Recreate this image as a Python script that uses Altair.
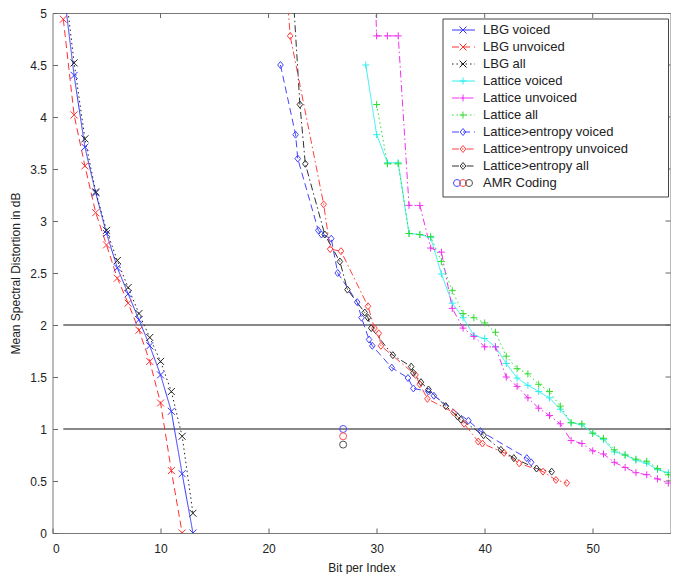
import altair as alt
import pandas as pd

# ---------------- data ----------------
lbg_x = list(range(1, 14))
lbg_voiced = [5.25, 4.40, 3.71, 3.27, 2.88, 2.55, 2.30, 2.05, 1.80, 1.52, 1.17, 0.57, 0.00]
lbg_unvoiced_x = list(range(1, 13))
lbg_unvoiced = [4.94, 4.02, 3.53, 3.08, 2.77, 2.45, 2.21, 1.95, 1.65, 1.25, 0.60, 0.00]
lbg_all = [5.40, 4.52, 3.79, 3.28, 2.91, 2.62, 2.36, 2.11, 1.88, 1.65, 1.36, 0.93, 0.19]

lat_x = list(range(29, 58))
lat_voiced = [4.50, 3.83, 3.56, 3.56, 2.88, 2.87, 2.84, 2.49, 2.21, 2.07, 1.90, 1.87, 1.79,
              1.63, 1.49, 1.42, 1.36, 1.30, 1.19, 1.06, 1.04, 0.96, 0.90, 0.78, 0.75, 0.70,
              0.67, 0.61, 0.58]
lat_unvoiced = [8.00, 4.78, 4.78, 4.78, 3.15, 3.15, 2.74, 2.70, 2.16, 1.97, 1.89, 1.79, 1.79,
                1.50, 1.41, 1.30, 1.20, 1.13, 1.05, 0.89, 0.86, 0.79, 0.76, 0.68, 0.63, 0.58,
                0.56, 0.52, 0.48]
lat_all_x = list(range(30, 58))
lat_all = [4.12, 3.55, 3.55, 2.88, 2.87, 2.85, 2.61, 2.33, 2.11, 2.07, 2.02, 1.93, 1.70,
           1.58, 1.53, 1.43, 1.36, 1.22, 1.06, 1.05, 0.96, 0.91, 0.80, 0.75, 0.71, 0.69,
           0.62, 0.56]

ent_voiced_x = [21.1, 22.5, 22.7, 24.6, 24.9, 25.8, 26.4, 28.2, 28.6, 29.3, 29.6, 31.4,
                32.9, 33.4, 34.8, 35.3, 38.5, 39.6, 43.9, 44.3]
ent_voiced_y = [4.50, 3.83, 3.60, 2.91, 2.87, 2.83, 2.50, 2.22, 2.07, 1.86, 1.80, 1.59,
                1.49, 1.39, 1.36, 1.32, 1.08, 0.98, 0.72, 0.68]
ent_unvoiced_x = [21.4, 22.0, 25.1, 25.7, 26.7, 29.2, 29.8, 30.2, 30.4, 33.6, 34.0, 34.7,
                  37.1, 38.1, 39.4, 39.8, 41.8, 43.2, 45.4, 46.6, 47.6]
ent_unvoiced_y = [5.60, 4.78, 3.16, 2.73, 2.71, 2.18, 1.97, 1.92, 1.80, 1.52, 1.43, 1.29,
                  1.16, 1.05, 0.88, 0.86, 0.77, 0.67, 0.59, 0.51, 0.48]
ent_all_x = [22.2, 22.9, 23.4, 25.2, 26.6, 27.3, 28.9, 29.2, 29.5, 31.5, 33.2, 33.4, 34.1,
             34.8, 36.4, 37.5, 37.8, 39.9, 41.5, 42.7, 44.8, 46.2]
ent_all_y = [5.30, 4.12, 3.55, 2.87, 2.61, 2.34, 2.12, 2.07, 1.97, 1.71, 1.60, 1.54, 1.45,
             1.38, 1.22, 1.12, 1.09, 0.94, 0.80, 0.72, 0.62, 0.59]

amr_x = [26.9, 26.9, 26.9]
amr_y = [1.00, 0.93, 0.85]

ref_levels = [1, 2]
x_ticks = [0, 10, 20, 30, 40, 50]
y_ticks = [0, 0.5, 1, 1.5, 2, 2.5, 3, 3.5, 4, 4.5, 5]

names = ["LBG voiced", "LBG unvoiced", "LBG all",
         "Lattice voiced", "Lattice unvoiced", "Lattice all",
         "Lattice>entropy voiced", "Lattice>entropy unvoiced", "Lattice>entropy all",
         "AMR voiced", "AMR unvoiced", "AMR all"]
legend_labels = names[:9] + ["AMR Coding"]

# ---------------- styles ----------------
BLUE, RED, BLACK = "#3535ff", "#ff3030", "#202020"
CYAN, MAG, GREEN = "#30eeee", "#f030f0", "#30dd30"
colors = [BLUE, RED, BLACK, CYAN, MAG, GREEN, "#4545ff", "#ff4040", "#303030", "#4a4aff", "#ff5050", "#505050"]
SOLID, DASH, DOT, DASHDOT = [1, 0], [7, 4], [1.5, 3], [7, 3, 1.5, 3]
dashes = [SOLID, DASH, DOT, SOLID, DASHDOT, DOT, DASH, DASHDOT, DASHDOT, SOLID, SOLID, SOLID]
XMARK = "M-1,-1L1,1M-1,1L1,-1"
PLUS = "M-1,0L1,0M0,-1L0,1"
DIAM = "M0,-1L0.8,0L0,1L-0.8,0Z"
shapes = [XMARK] * 3 + [PLUS] * 3 + [DIAM] * 3 + ["circle"] * 3
sizes = [49, 49, 42, 100, 100, 100, 121, 121, 121, 81, 81, 81]

W, H = 618, 520
XMAX, YMAX = 57.2, 5.0


def px2x(px):
    return px / W * XMAX


def px2y(py):
    return YMAX - py / H * YMAX


# ---------------- tables ----------------
rows = []
def add(series, xs, ys):
    for i, (a, b) in enumerate(zip(xs, ys)):
        rows.append({"series": series, "x": a, "y": b, "ord": i})

add(names[0], lbg_x, lbg_voiced)
add(names[1], lbg_unvoiced_x, lbg_unvoiced)
add(names[2], lbg_x, lbg_all)
add(names[3], lat_x, lat_voiced)
add(names[4], lat_x, lat_unvoiced)
add(names[5], lat_all_x, lat_all)
add(names[6], ent_voiced_x, ent_voiced_y)
add(names[7], ent_unvoiced_x, ent_unvoiced_y)
add(names[8], ent_all_x, ent_all_y)
for k in range(3):
    add(names[9 + k], [amr_x[k]], [amr_y[k]])
df = pd.DataFrame(rows)

xs = alt.Scale(domain=[0, XMAX], nice=False, zero=False)
ys = alt.Scale(domain=[0, YMAX], nice=False, zero=False)
color = alt.Color("series:N", scale=alt.Scale(domain=names, range=colors), legend=None)
dash = alt.StrokeDash("series:N", scale=alt.Scale(domain=names, range=dashes), legend=None)
shape = alt.Shape("series:N", scale=alt.Scale(domain=names, range=shapes), legend=None)
size = alt.Size("series:N", scale=alt.Scale(domain=names, range=sizes), legend=None)

X = alt.X("x:Q", scale=xs, axis=alt.Axis(values=x_ticks, format="d", title="Bit per Index",
                                          offset=-5, tickSize=5, domain=False, labelPadding=10,
                                          titlePadding=8, tickColor="#666"))
Y = alt.Y("y:Q", scale=ys, axis=alt.Axis(values=y_ticks, format="~g",
                                          title="Mean Spectral Distortion in dB",
                                          offset=-5, tickSize=5, domain=False, labelPadding=6,
                                          titlePadding=7, tickColor="#666"))

ref_df = pd.DataFrame({"y": ref_levels, "x1": [1] * len(ref_levels), "x2": [XMAX] * len(ref_levels)})
refs = alt.Chart(ref_df).mark_rule(color="#606060", strokeWidth=1.4).encode(
    x=alt.X("x1:Q", scale=xs), x2="x2:Q", y=alt.Y("y:Q", scale=ys))

lines = alt.Chart(df).transform_filter(
    alt.FieldOneOfPredicate(field="series", oneOf=names[:9])
).mark_line(clip=True, strokeWidth=1).encode(x=X, y=Y, color=color, strokeDash=dash, order="ord:Q")

points = alt.Chart(df).mark_point(clip=True, strokeWidth=1, opacity=1, filled=False).encode(
    x=X, y=Y, color=color, shape=shape, size=size)

# inward ticks on top and right frame edges
top_df = pd.DataFrame({"x": x_ticks[1:], "y1": [YMAX] * 5, "y2": [px2y(5)] * 5})
top_ticks = alt.Chart(top_df).mark_rule(color="#666").encode(
    x=alt.X("x:Q", scale=xs), y=alt.Y("y1:Q", scale=ys), y2="y2:Q")
right_df = pd.DataFrame({"y": y_ticks[1:-1], "x1": [XMAX] * 9, "x2": [px2x(W - 5)] * 9})
right_ticks = alt.Chart(right_df).mark_rule(color="#666").encode(
    x=alt.X("x1:Q", scale=xs), x2="x2:Q", y=alt.Y("y:Q", scale=ys))

# ---------------- legend ----------------
ROW0, ROWH = 17, 17
box_df = pd.DataFrame({"x1": [px2x(390.5)], "x2": [px2x(W - 2)], "y1": [px2y(6)], "y2": [px2y(184)]})
box = alt.Chart(box_df).mark_rect(fill="white", stroke="#444", strokeWidth=1).encode(
    x=alt.X("x1:Q", scale=xs), x2="x2:Q", y=alt.Y("y1:Q", scale=ys), y2="y2:Q")

leg_df = pd.DataFrame({
    "series": names[:9],
    "label": legend_labels[:9],
    "ly": [px2y(ROW0 + ROWH * i) for i in range(9)],
    "lx1": [px2x(399.5)] * 9, "lx2": [px2x(422.5)] * 9, "mx": [px2x(410.5)] * 9,
})
leg_lines = alt.Chart(leg_df).mark_rule(strokeWidth=1).encode(
    x=alt.X("lx1:Q", scale=xs), x2="lx2:Q", y=alt.Y("ly:Q", scale=ys), color=color, strokeDash=dash)
leg_pts = alt.Chart(leg_df).mark_point(strokeWidth=1, opacity=1, filled=False).encode(
    x=alt.X("mx:Q", scale=xs), y=alt.Y("ly:Q", scale=ys), color=color, shape=shape, size=size)
amr_leg = pd.DataFrame({
    "series": names[9:],
    "mx": [px2x(404.5), px2x(410.5), px2x(416.5)],
    "ly": [px2y(ROW0 + ROWH * 9)] * 3,
})
leg_amr = alt.Chart(amr_leg).mark_point(strokeWidth=1, opacity=1, filled=False).encode(
    x=alt.X("mx:Q", scale=xs), y=alt.Y("ly:Q", scale=ys), color=color, shape=shape, size=size)
txt_df = pd.DataFrame({
    "label": legend_labels,
    "ly": [px2y(ROW0 + ROWH * i) for i in range(10)],
    "tx": [px2x(430.5)] * 10,
})
leg_txt = alt.Chart(txt_df).mark_text(align="left", baseline="middle", fontSize=13,
                                      font="Liberation Sans", color="#222").encode(
    x=alt.X("tx:Q", scale=xs), y=alt.Y("ly:Q", scale=ys), text="label:N")

chart = alt.layer(
    refs, lines, points, top_ticks, right_ticks, box, leg_lines, leg_pts, leg_amr, leg_txt
).properties(
    width=W, height=H,
    autosize=alt.AutoSizeParams(type="none"),
    padding={"left": 44.5, "top": 5, "right": 0, "bottom": 42},
).configure_view(
    stroke="#777", strokeWidth=1
).configure_axis(
    labelFont="Liberation Sans", titleFont="Liberation Sans", labelFontSize=12, titleFontSize=12,
    labelColor="#222", titleColor="#222", titleFontWeight="normal", grid=False
)

chart.save("out.html", embed_options={"renderer": "svg", "actions": False})
